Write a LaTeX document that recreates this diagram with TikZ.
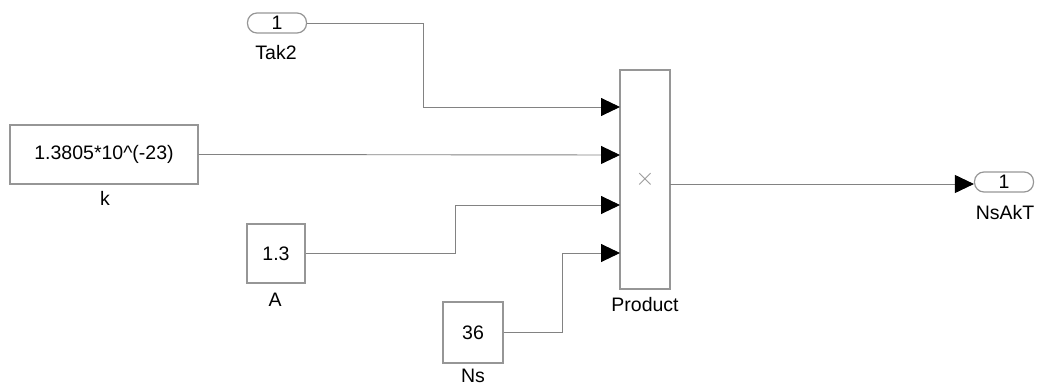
\documentclass[tikz,border=0pt]{standalone}
\usepackage{fontspec}
\setmainfont{Liberation Sans}
\usetikzlibrary{arrows.meta}
\definecolor{wire}{RGB}{130,130,130}
\definecolor{frame}{RGB}{150,150,150}
\begin{document}
\begin{tikzpicture}[x=1pt,y=-1pt,
  every node/.style={font=\fontsize{19.5}{22}\selectfont, inner sep=0pt},
  blk/.style={draw=frame, line width=1.2pt, fill=white, minimum width=#1},
  pill/.style={draw=frame, line width=1.2pt, rounded corners=9.5pt, minimum width=59pt, minimum height=20pt},
  lbl/.style={text=black},
  conn/.style={draw=wire, line width=0.9pt},
  tip/.style={conn, -{Triangle[length=19pt,width=18pt,color=black]}}
]
\useasboundingbox (0,0) rectangle (1040,385);

% blocks
\node[pill] (tak2) at (277,23) {1};
\node[lbl] (tak2l) at (276,53) {Tak2};

\node[blk=188pt, minimum height=59pt] (k) at (104,154.5) {1.3805*10\^{}(-23)};
\node[lbl] (kl) at (105,198) {k};

\node[blk=58pt, minimum height=59pt] (A) at (276,253.5) {1.3};
\node[lbl] (Al) at (275,299.5) {A};

\node[blk=60pt, minimum height=61pt] (Ns) at (473,332.5) {36};
\node[lbl] (Nsl) at (473,376) {Ns};

\node[blk=50pt, minimum height=219pt, text=frame] (prod) at (645,179.5) {\fontsize{30}{30}\selectfont$\times$};
\node[lbl] (prodl) at (645,305) {Product};

\node[pill] (out) at (1004,182) {1};
\node[lbl] (outl) at (1005,213) {NsAkT};

% ports of the product block
\coordinate (p1) at (620,107);
\coordinate (p2) at (620,155);
\coordinate (p3) at (620,205);
\coordinate (p4) at (620,253);
\coordinate (po) at (670,184);

% connectors
\draw[tip] (tak2.east) -- (423,23) -- (423,107) -- (p1);
\draw[tip] (k.east) -- (p2);
\draw[tip] (A.east) -- (455,253.5) -- (455,205) -- (p3);
\draw[tip] (Ns.east) -- (562,332.5) -- (562,253) -- (p4);
\draw[tip] (po) -- (out.west |- po);
\end{tikzpicture}
\end{document}
